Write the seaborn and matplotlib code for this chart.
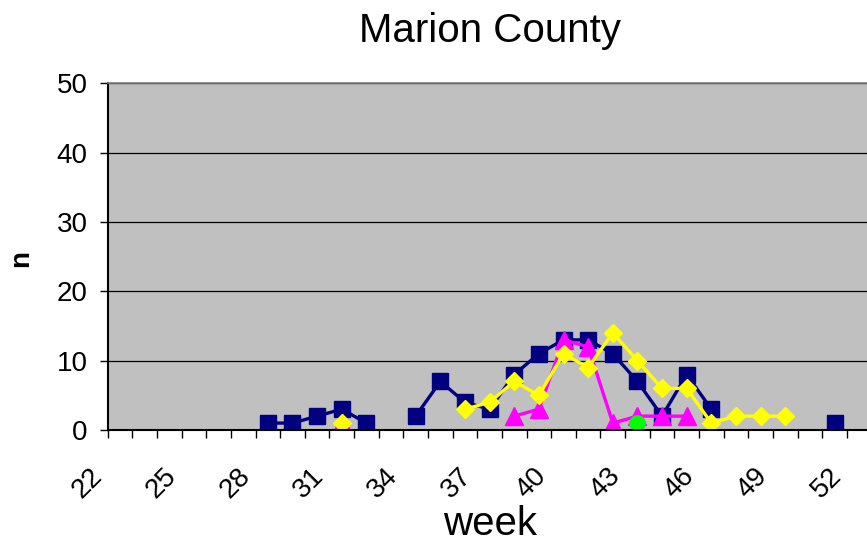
import numpy as np
import pandas as pd
import matplotlib
matplotlib.use("Agg")
import matplotlib.pyplot as plt
import seaborn as sns
from matplotlib.ticker import FixedLocator

N = None
weeks = list(range(22, 53))
label_weeks = list(range(22, 53, 3))
title = "Marion County"
x_label = "week"
y_label = "n"

series_names = ["Series 1", "Series 2", "Series 3", "Series 4"]
series_1 = [N] * 6 + [1, 1, 2, 3, 1, N, 2, 7, 4, 3, 8, 11, 13, 13, 11, 7, 2, 8, 3, N, N, N, N, 1, N]
series_2 = [N] * 9 + [1] + [N] * 6 + [2, 3, 13, 12, 1, 2, 2, 2] + [N] * 7
series_3 = [N] * 9 + [1] + [N] * 4 + [3, 4, 7, 5, 11, 9, 14, 10, 6, 6, 1, 2, 2, 2] + [N] * 3
series_4 = [N] * 21 + [1] + [N] * 9

colors = ["#000080", "#FF00FF", "#FFFF00", "#00FF00"]
markers = ["s", "^", "D", "o"]
msizes = [11, 13, 8.8, 11]

rows = []
for name, vals in zip(series_names, [series_1, series_2, series_3, series_4]):
    seg = 0
    for w, v in zip(weeks, vals):
        if v is None:
            seg += 1
        else:
            rows.append({"series": name, "week": w, "n": v, "seg": seg})
df = pd.DataFrame(rows)

sns.set_theme(style="white")
plt.rcParams["font.family"] = ["Liberation Sans", "DejaVu Sans"]
plt.rcParams["text.color"] = "black"
plt.rcParams["xtick.color"] = "black"
plt.rcParams["ytick.color"] = "black"
plt.rcParams["axes.labelcolor"] = "black"

W, H = 867, 540
fig = plt.figure(figsize=(W / 100, H / 100), dpi=100)
left, right, top, bottom = 107.7, 871.5, 83.3, 430.0
ax = fig.add_axes([left / W, 1 - bottom / H, (right - left) / W, (bottom - top) / H])
ax.set_facecolor("#C0C0C0")

for name, c, m, ms in zip(series_names, colors, markers, msizes):
    sub = df[df["series"] == name]
    sns.lineplot(data=sub, x="week", y="n", units="seg", estimator=None,
                 color=c, marker=m, markersize=ms, markeredgecolor=c,
                 markeredgewidth=1, linewidth=2.4, ax=ax, legend=False,
                 sort=False)

ax.set_xlim(21.5, 52.5)
ax.set_ylim(0, 50)
ax.set_yticks(range(0, 51, 10))
ax.yaxis.grid(True, color="black", linewidth=0.9)
ax.xaxis.grid(False)
ax.set_axisbelow(True)

ax.set_xticks([w - 0.5 for w in label_weeks])
ax.set_xticklabels([str(w) for w in label_weeks])
ax.xaxis.set_minor_locator(FixedLocator(np.arange(21.5, 53, 1)))

ax.tick_params(axis="x", which="both", direction="out", length=5.5, width=1,
               color="black", bottom=True)
ax.tick_params(axis="x", which="major", labelsize=20, labelcolor="black", pad=18)
ax.tick_params(axis="y", direction="out", length=5.5, width=1, color="black",
               left=True, labelsize=20, labelcolor="black", pad=9)
for lab in ax.get_xticklabels():
    lab.set_rotation(45)
    lab.set_ha("right")
    lab.set_va("top")

for s in ["left", "bottom"]:
    ax.spines[s].set_color("black")
    ax.spines[s].set_linewidth(1.5)
for s in ["top", "right"]:
    ax.spines[s].set_color("#808080")
    ax.spines[s].set_linewidth(1.2)

ax.set_xlabel("")
ax.set_ylabel("")
ax.set_title(title, fontsize=29, pad=30, color="black")
fig.text((left + right) / 2 / W, 5 / H, x_label, ha="center", va="baseline",
         fontsize=29, color="black")
fig.text(21 / W, 1 - 258 / H, y_label, rotation=90, ha="center", va="center",
         fontsize=20, fontweight="bold", color="black")

fig.savefig("out.png", dpi=100)
